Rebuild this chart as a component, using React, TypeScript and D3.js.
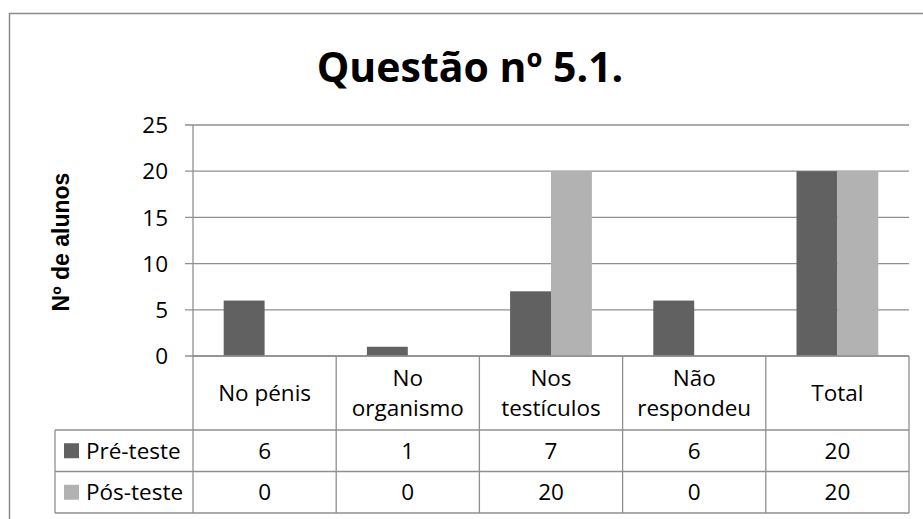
import React, { useEffect, useRef } from "react";
import * as d3 from "d3";

const categories: string[][] = [["No pénis"], ["No", "organismo"], ["Nos", "testículos"], ["Não", "respondeu"], ["Total"]];
const seriesNames = ["Pré-teste", "Pós-teste"];
const preTeste = [6, 1, 7, 6, 20];
const posTeste = [0, 0, 20, 0, 20];
const yTicks = [0, 5, 10, 15, 20, 25];
const colors = ["#616161", "#b2b2b2"];
const title = "Questão nº 5.1.";
const yLabel = "Nº de alunos";

const W = 923;
const H = 519;
const FONT = "'Open Sans', 'DejaVu Sans', sans-serif";
const FS = 22.5;

export default function App() {
  const ref = useRef<SVGSVGElement>(null);
  useEffect(() => {
    const svg = d3.select(ref.current);
    svg.selectAll("*").remove();
    const plot = { left: 193, right: 909, top: 125, bottom: 356 };
    const tableLeft = 55;
    const rowBottoms = [430, 471.5, 513];
    const gridColor = "#8f8f8f";

    // outer border
    svg.append("rect").attr("x", 9.5).attr("y", 13.5).attr("width", W).attr("height", H)
      .attr("fill", "white").attr("stroke", "#8c8c8c").attr("stroke-width", 1.5);

    svg.append("text").attr("x", 470).attr("y", 82).attr("text-anchor", "middle")
      .attr("font-family", FONT).attr("font-weight", "bold").attr("font-size", 41)
      .attr("fill", "#000").text(title);

    const x = d3.scaleBand<number>().domain(d3.range(categories.length)).range([plot.left, plot.right]);
    const y = d3.scaleLinear().domain([0, 25]).range([plot.bottom, plot.top]);

    // gridlines + ticks
    const g = svg.append("g");
    yTicks.forEach((t) => {
      g.append("line").attr("x1", plot.left - 8).attr("x2", plot.right).attr("y1", y(t)).attr("y2", y(t))
        .attr("stroke", gridColor).attr("stroke-width", 1.3);
      g.append("text").attr("x", 168).attr("y", y(t)).attr("dy", "0.36em").attr("text-anchor", "end")
        .attr("font-family", FONT).attr("font-size", FS).attr("fill", "#000").text(String(t));
    });
    g.append("line").attr("x1", plot.left).attr("x2", plot.left).attr("y1", plot.top).attr("y2", rowBottoms[2])
      .attr("stroke", gridColor).attr("stroke-width", 1.3);

    // bars
    const bw = x.bandwidth() / 3.5;
    const series = [preTeste, posTeste];
    series.forEach((vals, si) => {
      svg.append("g").selectAll("rect").data(vals).join("rect")
        .attr("x", (_d, i) => (x(i) as number) + x.bandwidth() / 2 - bw + si * bw)
        .attr("width", bw)
        .attr("y", (d) => y(d))
        .attr("height", (d) => y(0) - y(d))
        .attr("fill", colors[si]);
    });

    // table lines
    const tg = svg.append("g").attr("stroke", gridColor).attr("stroke-width", 1.3);
    tg.append("line").attr("x1", plot.left).attr("x2", plot.right).attr("y1", plot.bottom).attr("y2", plot.bottom);
    rowBottoms.forEach((rb) => {
      tg.append("line").attr("x1", tableLeft).attr("x2", plot.right).attr("y1", rb).attr("y2", rb);
    });
    categories.forEach((_c, i) => {
      const xr = (x(i) as number) + x.bandwidth();
      tg.append("line").attr("x1", xr).attr("x2", xr).attr("y1", plot.bottom).attr("y2", rowBottoms[2]);
    });
    tg.append("line").attr("x1", tableLeft).attr("x2", tableLeft).attr("y1", rowBottoms[0]).attr("y2", rowBottoms[2]);

    // header labels
    categories.forEach((lines, i) => {
      const cx = (x(i) as number) + x.bandwidth() / 2;
      const cy = (plot.bottom + rowBottoms[0]) / 2;
      const lh = 30;
      lines.forEach((ln, li) => {
        svg.append("text").attr("x", cx).attr("y", cy + (li - (lines.length - 1) / 2) * lh)
          .attr("dy", "0.36em").attr("text-anchor", "middle")
          .attr("font-family", FONT).attr("font-size", FS).attr("fill", "#000").text(ln);
      });
    });

    // rows
    series.forEach((vals, si) => {
      const top = rowBottoms[si];
      const bot = rowBottoms[si + 1];
      const cy = (top + bot) / 2;
      svg.append("rect").attr("x", 64).attr("y", cy - 7.5).attr("width", 15).attr("height", 15).attr("fill", colors[si]);
      svg.append("text").attr("x", 86).attr("y", cy).attr("dy", "0.36em")
        .attr("font-family", FONT).attr("font-size", FS).attr("fill", "#000").text(seriesNames[si]);
      vals.forEach((v, i) => {
        svg.append("text").attr("x", (x(i) as number) + x.bandwidth() / 2).attr("y", cy).attr("dy", "0.36em")
          .attr("text-anchor", "middle").attr("font-family", FONT).attr("font-size", FS).attr("fill", "#000")
          .text(String(v));
      });
    });

    // y label
    svg.append("text").attr("transform", `translate(69,242) rotate(-90)`).attr("text-anchor", "middle")
      .attr("font-family", "'Liberation Sans', Arial, sans-serif").attr("font-weight", "bold").attr("font-size", 23)
      .attr("fill", "#000").text(yLabel);
  }, []);
  return (
    <svg ref={ref} width={W} height={H} style={{ position: "absolute", left: 0, top: 0, background: "white" }} />
  );
}
